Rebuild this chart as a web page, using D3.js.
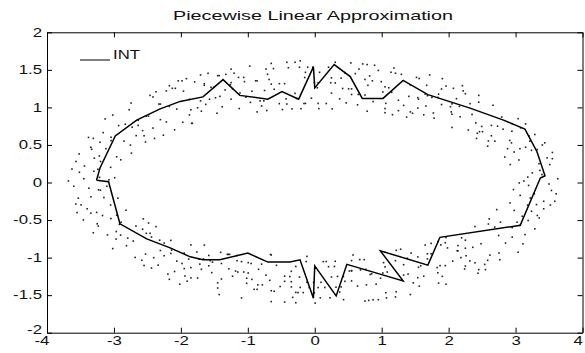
<!DOCTYPE html>
<html>
<head>
<meta charset="utf-8">
<script src="https://cdn.jsdelivr.net/npm/d3@7"></script>
<style>
  body { margin: 0; background: #fff; }
  text { font-family: Arial, "Liberation Sans", sans-serif; fill: #111; }
</style>
</head>
<body>
<div class="canvas"></div>
<script>
const dims = {width: 585, height: 353};

// axis ticks
const xTicks = [-4, -3, -2, -1, 0, 1, 2, 3, 4];
const yTicks = [-2, -1.5, -1, -0.5, 0, 0.5, 1, 1.5, 2];

// sample points (approximate), upper arc
const pointsTop = [
  [-2.639,0.760],[-2.639,0.829],[-2.55,0.622],[-2.483,0.884],[-2.517,0.884],[-2.461,1.160],[-2.372,1.208],[-2.417,0.725],[-2.417,1.139],
  [-2.306,1.044],[-2.328,1.044],[-2.306,0.837],[-2.217,1.220],[-2.217,0.806],[-2.172,1.289],[-2.094,0.702],[-2.128,1.254],[-2.061,0.978],
  [-2.039,1.354],[-1.972,0.802],[-1.983,1.354],[-1.917,1.383],[-1.85,0.969],[-1.872,1.107],[-1.839,0.788],[-1.794,1.340],[-1.828,0.788],
  [-1.65,1.294],[-1.706,1.432],[-1.706,1.087],[-1.594,1.454],[-1.628,1.040],[-1.65,1.316],[-1.461,0.922],[-1.483,1.129],[-1.55,1.267],
  [-1.428,1.423],[-1.383,1.009],[-1.45,1.423],[-1.25,1.509],[-1.261,1.302],[-1.328,1.440],[-1.25,1.110],[-1.206,1.455],[-1.228,1.248],
  [-1.117,1.192],[-1.128,0.985],[-1.139,1.399],[-1.05,1.343],[-0.972,1.550],[-0.961,1.067],[-0.939,1.216],[-0.861,0.940],[-0.861,1.354],
  [-0.794,1.018],[-0.817,1.087],[-0.761,1.087],[-0.717,0.958],[-0.683,1.372],[-0.706,1.441],[-0.65,1.586],[-0.617,1.517],[-0.606,1.241],
  [-0.483,0.971],[-0.45,1.316],[-0.53,1.05],[-0.394,1.528],[-0.428,1.114],[-0.417,1.045],[-0.272,1.118],[-0.294,1.187],[-0.294,1.601],
  [-0.206,0.983],[-0.161,1.052],[-0.228,1.535],[-0.106,1.536],[-0.139,1.053],[-0.139,1.467],[-0.006,1.330],[-0.05,1.123],[0.039,1.261],
  [0.061,0.984],[0.072,1.467],[0.05,1.053],[0.25,1.190],[0.239,1.328],[0.172,1.052],[0.261,0.980],[0.306,1.325],[0.306,1.601],
  [0.417,1.252],[0.394,1.390],[0.372,1.114],[0.55,1.247],[0.539,1.592],[0.506,1.247],[0.65,1.172],[0.55,1.172],[0.639,1.034],
  [0.75,1.372],[0.717,1.579],[0.661,1.510],[0.783,0.949],[0.783,1.570],[0.794,1.294],[0.95,1.492],[0.894,1.561],[0.872,1.078],
  [1.017,1.205],[0.994,1.343],[1.05,1.274],[1.106,1.261],[1.05,0.985],[1.061,1.054],[1.206,1.455],[1.183,1.524],[1.161,0.903],
  [1.328,1.026],[1.25,0.957],[1.294,1.440],[1.372,0.871],[1.406,1.147],[1.428,0.940],[1.461,0.922],[1.539,1.129],[1.539,0.991],
  [1.561,1.385],[1.55,1.109],[1.65,1.178],[1.683,1.156],[1.672,1.294],[1.661,1.018],[1.772,0.926],[1.839,1.133],[1.75,1.133],
  [1.906,1.383],[1.85,1.176],[1.894,1.038],[2.039,0.940],[2.05,0.733],[2.028,1.009],[2.117,1.116],[2.05,0.909],[2.072,1.254],
  [2.172,0.875],[2.161,1.013],[2.217,1.220],[2.25,1.182],[2.294,0.699],[2.32,1.05],[2.45,1.070],[2.417,0.587],[2.428,0.656],
  [2.461,0.677],[2.494,0.746],[2.506,0.677],[2.639,0.760],[2.583,0.484],[2.639,0.622],
  [-2.572,0.691],[-2.528,0.539],[-2.394,0.587],[-2.261,0.630],[-2.172,1.013],[-2.083,1.254],[-1.961,1.216],[-1.872,0.900],[-1.75,0.995],
  [-1.694,0.949],[-1.572,1.109],[-1.506,1.267],[-1.417,1.147],[-1.339,1.233],[-1.25,1.33],[-1.061,1.399],[-1.028,1.136],[-0.883,1.354],
  [-0.75,1.225],[-0.728,1.510],[-0.65,1.310],[-0.528,1.316],[-0.417,1.60],[-0.339,0.980],[-0.217,1.62],[-0.15,1.398],[-0.028,1.537],
  [0.05,1.329],[0.206,1.535],[0.25,1.394],[0.45,1.459],[0.47,1.06],[0.606,1.45],[0.75,1.165],[0.82,1.42],[0.861,1.354],
  [1.05,0.929],[1.139,1.468],[1.15,1.2],[1.25,1.095],[1.428,1.30],[1.52,1.40],[1.628,0.902],[1.717,1.432],[1.783,0.857],
  [1.894,1.245],[1.961,1.285],[2.05,1.047],[2.206,1.289],[2.35,0.906],[2.406,0.794],[2.45,1.160],[2.594,0.553]
];

// lower arc
const pointsBottom = [
  [-2.583,-1.036],[-2.55,-1.105],[-2.561,-0.484],[-2.528,-0.953],[-2.461,-0.677],[-2.483,-0.539],[-2.406,-1.001],[-2.439,-1.139],[-2.372,-0.587],
  [-2.317,-0.768],[-2.25,-0.975],[-2.306,-0.906],[-2.15,-0.944],[-2.172,-1.289],[-2.25,-0.806],[-2.061,-1.047],[-2.15,-0.771],[-2.094,-1.185],
  [-2.017,-1.354],[-1.95,-0.940],[-1.95,-1.147],[-1.939,-1.245],[-1.85,-0.831],[-1.906,-1.314],[-1.761,-0.926],[-1.85,-1.133],[-1.75,-1.271],
  [-1.728,-1.018],[-1.661,-1.018],[-1.717,-1.087],[-1.583,-0.971],[-1.583,-1.109],[-1.561,-1.040],[-1.528,-1.060],[-1.45,-1.336],[-1.45,-1.405],
  [-1.394,-1.078],[-1.394,-1.285],[-1.428,-1.492],[-1.294,-0.957],[-1.306,-0.957],[-1.272,-0.957],[-1.161,-1.041],[-1.161,-0.972],[-1.183,-1.179],
  [-1.061,-1.192],[-1.094,-1.537],[-1.15,-1.192],[-0.994,-1.067],[-1.017,-1.274],[-1.017,-1.343],[-0.95,-1.078],[-0.861,-1.423],[-0.906,-1.423],
  [-0.839,-1.156],[-0.794,-1.087],[-0.783,-1.363],[-0.728,-1.234],[-0.65,-1.441],[-0.672,-1.303],[-0.572,-1.103],[-0.606,-1.448],[-0.65,-1.586],
  [-0.517,-1.385],[-0.45,-1.592],[-0.45,-1.316],[-0.35,-1.321],[-0.372,-1.252],[-0.35,-1.390],[-0.283,-1.601],[-0.283,-1.463],[-0.283,-1.118],
  [-0.172,-1.466],[-0.228,-1.259],[-0.25,-1.466],[-0.083,-1.398],[-0.117,-0.984],[-0.117,-1.329],[-0.017,-1.330],[-0.006,-1.468],[0.006,-1.606],
  [0.094,-1.329],[0.128,-1.053],[0.083,-1.536],[0.172,-1.052],[0.228,-1.535],[0.206,-1.121],[0.306,-1.049],[0.317,-1.394],[0.294,-1.118],
  [0.428,-1.252],[0.372,-1.459],[0.394,-1.390],[0.517,-1.178],[0.55,-1.040],[0.55,-1.178],[0.572,-0.965],[0.55,-1.172],[0.55,-1.310],
  [0.75,-1.579],[0.672,-1.027],[0.739,-1.027],[0.828,-1.225],[0.761,-1.156],[0.806,-1.570],[0.917,-1.354],[0.872,-1.561],[0.85,-1.216],
  [0.983,-1.274],[1.028,-1.067],[1.05,-0.929],[1.05,-1.123],[1.083,-1.192],[1.072,-1.537],[1.206,-1.041],[1.217,-0.903],[1.206,-1.524],
  [1.306,-1.302],[1.283,-0.888],[1.328,-1.095],[1.439,-0.940],[1.383,-1.009],[1.394,-1.22],[1.539,-1.267],[1.472,-1.336],[1.55,-1.129],
  [1.583,-1.109],[1.65,-0.833],[1.628,-1.247],[1.683,-0.949],[1.683,-1.018],[1.739,-0.949],[1.85,-1.340],[1.839,-0.788],[1.828,-1.133],
  [1.883,-0.831],[1.95,-1.107],[1.872,-1.107],[1.961,-0.733],[1.961,-1.354],[1.95,-0.802],[2.061,-1.047],[2.128,-0.909],[2.139,-0.909],
  [2.194,-0.737],[2.239,-1.151],[2.25,-0.875],[2.25,-1.113],[2.25,-0.768],[2.261,-0.975],[2.394,-0.587],[2.439,-1.208],[2.361,-0.863],
  [2.55,-1.160],[2.483,-0.815],[2.539,-1.091],[2.594,-0.553],[2.617,-0.967],[2.606,-0.484],
  [-2.572,-0.622],[-2.517,-0.677],[-2.439,-0.725],[-2.339,-1.10],[-2.194,-1.220],[-2.139,-0.90],[-1.983,-1.078],[-1.883,-1.02],[-1.85,-1.271],
  [-1.694,-1.156],[-1.65,-0.833],[-1.539,-1.20],[-1.406,-0.93],[-1.283,-1.15],[-1.228,-1.248],[-1.094,-1.054],[-0.994,-1.205],[-0.939,-1.29],
  [-0.85,-1.363],[-0.661,-0.958],[-0.65,-0.965],[-0.45,-1.247],[-0.35,-1.183],[-0.33,-1.53],[-0.217,-1.397],[-0.128,-1.053],[0.05,-1.399],
  [0.15,-1.398],[0.25,-1.259],[0.34,-1.25],[0.43,-1.56],[0.45,-1.316],[0.639,-1.379],[0.683,-1.165],[0.772,-1.363],[0.95,-1.561],
  [1.017,-1.205],[1.061,-1.468],[1.217,-1.455],[1.328,-1.233],[1.428,-1.492],[1.539,-0.991],[1.561,-1.38],[1.739,-0.811],[1.839,-1.202],
  [1.906,-1.25],[1.983,-0.871],[2.139,-0.840],[2.183,-1.0],[2.317,-1.044],[2.394,-1.070],[2.45,-1.160],[2.583,-1.036]
];

// right end of the ring
const pointsRight = [
  [3.055,-0.006],[3.125,0.02],[3.195,-0.039],[3.394,0.106],[3.182,0.072],[3.25,0.128],[3.607,-0.15],[2.969,-0.094],[3.536,-0.106],
  [2.921,0.239],[3.364,0.161],[3.512,0.239],[3.069,-0.172],[3.22,-0.206],[3.586,-0.25],[3.55,0.317],[2.839,0.339],[3.471,0.328],
  [3.313,-0.294],[3.42,-0.25],[2.918,-0.272],[3.325,0.439],[2.979,0.406],[3.238,0.428],[3.065,0.45],[2.719,-0.361],[2.979,-0.372],
  [3.325,-0.439],[3.238,-0.383],[3.436,0.528],[2.939,0.528],[3.15,0.47],[2.691,0.55],[3.022,-0.528],[3.353,-0.472],[3.188,-0.506],
  [2.774,-0.528],[3.213,0.55],[2.913,0.56],[3.288,0.639],[2.688,-0.594],[3.288,-0.617],[3.063,-0.572],[2.945,0.683],[2.814,0.71],
  [3.076,0.728],[2.748,-0.706],[3.141,-0.694],[2.95,-0.728],[2.948,0.783],[2.731,0.75],[3.111,-0.817],[2.85,-0.806],[2.793,0.872],
  [3.038,0.85],[2.752,-0.939],[3.038,-0.928],[2.663,1.028],[2.764,-1.028],
  [3.63,0.05],[3.5,-0.02],[3.35,0.25],[3.42,-0.35],[3.18,-0.3],[3.05,0.3],[3.28,-0.15],[3.55,0.4],[2.88,0.45],[3.2,0.62],
  [3.1,-0.45],[3.4,0.5],[2.95,-0.6],[3.52,-0.3],[3.15,0.78]
];

// left end of the ring
const pointsLeft = [
  [-3.075,0.036],[-3.105,-0.05],[-3.215,0.069],[-3.374,-0.076],[-3.202,-0.102],[-3.23,-0.098],[-3.627,0.18],[-2.989,0.064],[-3.516,0.136],
  [-2.941,-0.209],[-3.344,-0.191],[-3.532,-0.209],[-3.049,0.202],[-3.24,0.176],[-3.566,0.28],[-3.57,-0.287],[-2.819,-0.369],[-3.491,-0.298],
  [-3.293,0.324],[-3.44,0.22],[-2.898,0.302],[-3.345,-0.409],[-2.959,-0.436],[-3.258,-0.398],[-3.045,-0.48],[-2.739,0.391],[-2.959,0.342],
  [-3.345,0.469],[-3.218,0.353],[-3.456,-0.498],[-2.919,-0.558],[-3.17,-0.44],[-2.671,-0.58],[-3.042,0.558],[-3.333,0.442],[-3.208,0.536],
  [-2.754,0.498],[-3.233,-0.58],[-2.893,-0.53],[-3.308,-0.669],[-2.668,0.624],[-3.308,0.587],[-3.043,0.602],[-2.965,-0.653],[-2.794,-0.74],
  [-3.096,-0.698],[-2.728,0.736],[-3.161,0.664],[-2.93,0.758],[-2.968,-0.753],[-2.711,-0.78],[-3.131,0.847],[-2.83,0.776],[-2.813,-0.842],
  [-3.018,-0.88],[-2.772,0.969],[-3.018,0.898],[-2.683,-0.998],[-2.744,1.058],
  [-3.68,0.02],[-3.6,-0.05],[-3.45,0.05],[-3.3,0.15],[-3.15,-0.2],[-3.4,-0.35],[-3.52,0.38],[-3.12,0.45],[-2.85,0.55],[-3.25,-0.55],
  [-3.05,-0.3],[-3.38,0.6],[-2.9,-0.7],[-3.55,-0.4],[-3.2,0.28]
];

// piecewise linear fit (INT), closed loop, clockwise from the left
const intX = [-3.26,-3.21,-2.98,-2.66,-2.31,-2.01,-1.67,-1.37,-1.12,-0.70,-0.49,-0.24,-0.02,0.00,0.29,0.53,0.71,1.02,1.32,1.69,2.32,2.82,3.14,3.32,3.44,3.37,
              3.07,1.87,1.69,0.98,1.32,0.48,0.32,0.00,-0.02,-0.22,-0.37,-0.70,-1.00,-1.42,-1.67,-1.86,-2.16,-2.51,-2.91,-3.08,-3.26];
const intY = [0.03,0.19,0.62,0.83,0.98,1.08,1.14,1.37,1.16,1.11,1.21,1.11,1.54,1.26,1.57,1.41,1.12,1.12,1.36,1.17,0.99,0.83,0.71,0.41,0.09,0.06,
              -0.57,-0.73,-1.10,-0.91,-1.31,-1.09,-1.51,-1.11,-1.54,-1.03,-1.06,-1.06,-0.94,-1.03,-1.03,-0.99,-0.87,-0.75,-0.55,0.01,0.03];

const svg = d3.select(".canvas").append("svg")
    .attr("width", dims.width)
    .attr("height", dims.height)
    .style("display", "block");

svg.append("rect")
    .attr("width", dims.width)
    .attr("height", dims.height)
    .attr("fill", "#fff");

const x = d3.scaleLinear().domain([-4, 4]).range([47, 582.5]);
const y = d3.scaleLinear().domain([-2, 2]).range([332.7, 32.3]);

// scatter dots
const points = pointsTop.concat(pointsBottom, pointsRight, pointsLeft);
svg.append("g")
  .selectAll("rect")
  .data(points)
  .enter().append("rect")
    .attr("x", d => x(d[0]) - 0.8)
    .attr("y", d => y(d[1]) - 0.8)
    .attr("width", 1.6)
    .attr("height", 1.6)
    .attr("fill", "#222");

// the INT line
const line = d3.line()
    .x(i => x(intX[i]))
    .y(i => y(intY[i]));

svg.append("path")
    .attr("d", line(d3.range(intX.length)))
    .attr("fill", "none")
    .attr("stroke", "#000")
    .attr("stroke-width", 1.5)
    .attr("stroke-linejoin", "miter");

// axes, ticks point inwards (matlab style)
const stretch = "scale(1.4,1)";
const fmt = d => String(d);

const xAxis = svg.append("g")
    .attr("transform", `translate(0,${y(-2)})`)
    .call(d3.axisBottom(x).tickValues(xTicks).tickFormat(fmt).tickSize(-5).tickPadding(4).tickSizeOuter(0));
const yAxis = svg.append("g")
    .attr("transform", `translate(${x(-4)},0)`)
    .call(d3.axisLeft(y).tickValues(yTicks).tickFormat(fmt).tickSize(-5).tickPadding(5).tickSizeOuter(0));
svg.append("g")
    .attr("transform", `translate(0,${y(2)})`)
    .call(d3.axisTop(x).tickValues(xTicks).tickSize(-5).tickFormat("").tickSizeOuter(0));
svg.append("g")
    .attr("transform", `translate(${x(4)},0)`)
    .call(d3.axisRight(y).tickValues(yTicks).tickSize(-5).tickFormat("").tickSizeOuter(0));

svg.selectAll(".domain, .tick line").attr("stroke", "#000");
svg.selectAll(".tick text").attr("font-size", 12).attr("fill", "#111");
xAxis.selectAll(".tick text")
    .attr("x", d => d === 4 ? -3.5 : (d === -4 ? -4 : 0))
    .attr("transform", stretch);
yAxis.selectAll(".tick text")
    .attr("x", 0)
    .attr("transform", d => `translate(-5,${d === -2 ? -3 : 0}) ` + stretch);

// title
svg.append("text")
    .attr("x", 313)
    .attr("y", 19.5)
    .attr("text-anchor", "middle")
    .attr("font-size", 13)
    .attr("textLength", 280)
    .attr("lengthAdjust", "spacingAndGlyphs")
    .text("Piecewise Linear Approximation");

// legend
svg.append("line")
    .attr("x1", 80).attr("x2", 110)
    .attr("y1", 60).attr("y2", 60)
    .attr("stroke", "#000")
    .attr("stroke-width", 1);
svg.append("text")
    .attr("x", 113)
    .attr("y", 59)
    .attr("font-size", 12)
    .attr("textLength", 27)
    .attr("lengthAdjust", "spacingAndGlyphs")
    .text("INT");
</script>
</body>
</html>
